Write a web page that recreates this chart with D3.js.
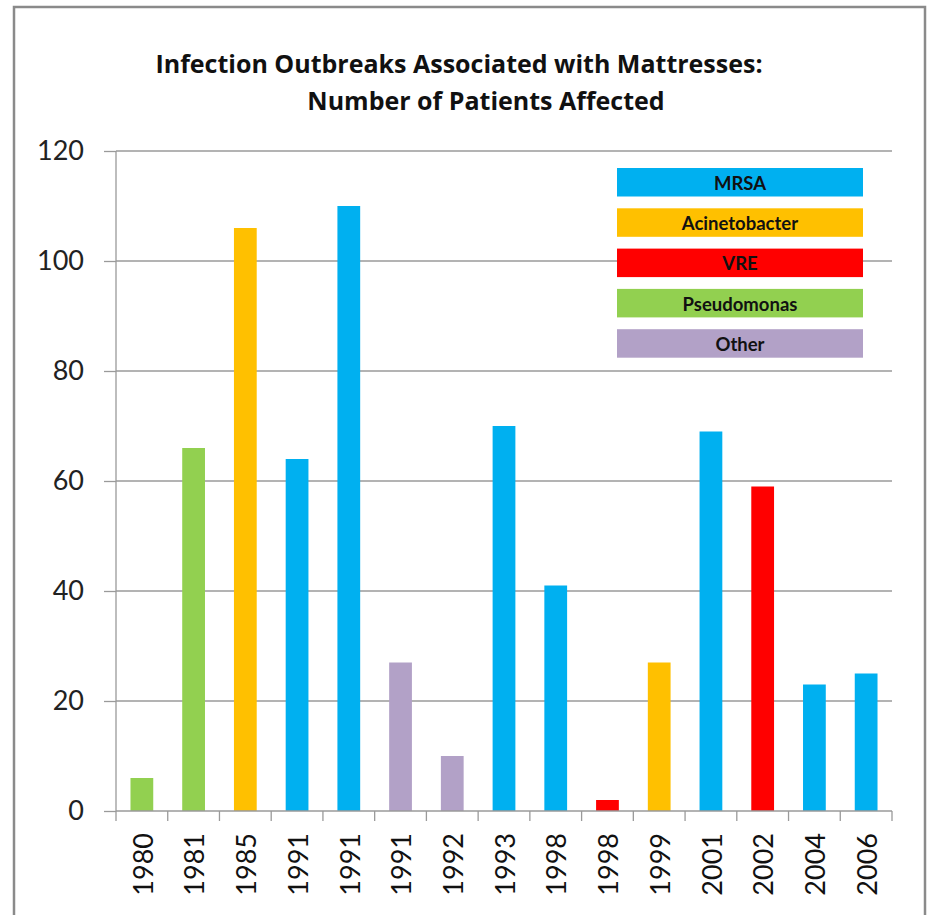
<!DOCTYPE html>
<html><head><meta charset="utf-8">
<script src="https://cdn.jsdelivr.net/npm/d3@7"></script>
<style>body{margin:0;background:#fff}svg{display:block}</style>
</head><body><svg id="c" width="928" height="915"></svg>
<script>
const years = ["1980","1981","1985","1991","1991","1991","1992","1993","1998","1998","1999","2001","2002","2004","2006"];
const patients = [6,66,106,64,110,27,10,70,41,2,27,69,59,23,25];
const organisms = ["Pseudomonas","Pseudomonas","Acinetobacter","MRSA","MRSA","Other","Other","MRSA","MRSA","VRE","Acinetobacter","MRSA","VRE","MRSA","MRSA"];
const legendNames = ["MRSA","Acinetobacter","VRE","Pseudomonas","Other"];
const legendColors = ["#00B0F0","#FFC000","#FF0000","#92D050","#B2A1C7"];
const yTicks = [0,20,40,60,80,100,120];
const titleLines = ["Infection Outbreaks Associated with Mattresses:","Number of Patients Affected"];

const svg = d3.select("#c");
const font = "Lato, 'Open Sans', sans-serif";
const titleFont = "'Open Sans', Lato, sans-serif";
const gray = "#9a9a9a";

// frame
svg.append("rect").attr("x",14).attr("y",7).attr("width",911).attr("height",930)
  .attr("fill","#fff").attr("stroke","#8a8a8a").attr("stroke-width",2.5);

const x = d3.scaleBand().domain(d3.range(years.length)).range([116,892]).paddingInner(0.56).paddingOuter(0.28);
const y = d3.scaleLinear().domain([0,120]).range([811,151]);
const color = d3.scaleOrdinal().domain(legendNames).range(legendColors);

// gridlines
svg.append("g").selectAll("line").data(yTicks.filter(d=>d>0)).join("line")
  .attr("x1",116).attr("x2",892).attr("y1",d=>y(d)).attr("y2",d=>y(d))
  .attr("stroke",gray).attr("stroke-width",1.3);

// y axis
const ya = svg.append("g").attr("transform","translate(116,0)")
  .call(d3.axisLeft(y).tickValues(yTicks).tickSize(12).tickPadding(20));
ya.selectAll("line,path").attr("stroke",gray).attr("stroke-width",1.3);
ya.select(".domain").attr("d","M0,811V151");
ya.selectAll("text").attr("font-family",font).attr("font-size",27).attr("fill","#222");

// bars
svg.append("g").selectAll("rect").data(patients).join("rect")
  .attr("x",(d,i)=>x(i)).attr("width",x.bandwidth())
  .attr("y",d=>y(d)).attr("height",d=>y(0)-y(d))
  .attr("fill",(d,i)=>color(organisms[i]));

// x axis
const step = x.step();
const xa = svg.append("g");
xa.append("line").attr("x1",116).attr("x2",892).attr("y1",811).attr("y2",811).attr("stroke",gray).attr("stroke-width",1.3);
xa.selectAll("line.t").data(d3.range(years.length+1)).join("line").attr("class","t")
  .attr("x1",i=>116+i*step).attr("x2",i=>116+i*step).attr("y1",811).attr("y2",821)
  .attr("stroke",gray).attr("stroke-width",1.3);
xa.selectAll("text").data(years).join("text")
  .attr("transform",(d,i)=>`translate(${x(i)+x.bandwidth()/2+1},833) rotate(-90)`)
  .attr("text-anchor","end").attr("dy","0.36em")
  .attr("font-family",font).attr("font-size",27).attr("fill","#111").text(d=>d);

// title
svg.append("g").selectAll("text").data(titleLines).join("text")
  .attr("x",(d,i)=>i===0?459:486).attr("y",(d,i)=>i===0?73:110)
  .attr("text-anchor","middle").attr("font-family",titleFont).attr("font-weight","bold")
  .attr("font-size",25).attr("fill","#111").text(d=>d);

// legend
const lg = svg.append("g");
lg.selectAll("rect").data(legendNames).join("rect")
  .attr("x",617).attr("width",246).attr("y",(d,i)=>168+i*40.3).attr("height",28.5)
  .attr("fill",d=>color(d));
lg.selectAll("text").data(legendNames).join("text")
  .attr("x",740).attr("y",(d,i)=>168+i*40.3+15).attr("dy","0.36em")
  .attr("text-anchor","middle").attr("font-family",font).attr("font-weight","bold")
  .attr("font-size",18.5).attr("fill","#111").text(d=>d);
</script></body></html>
